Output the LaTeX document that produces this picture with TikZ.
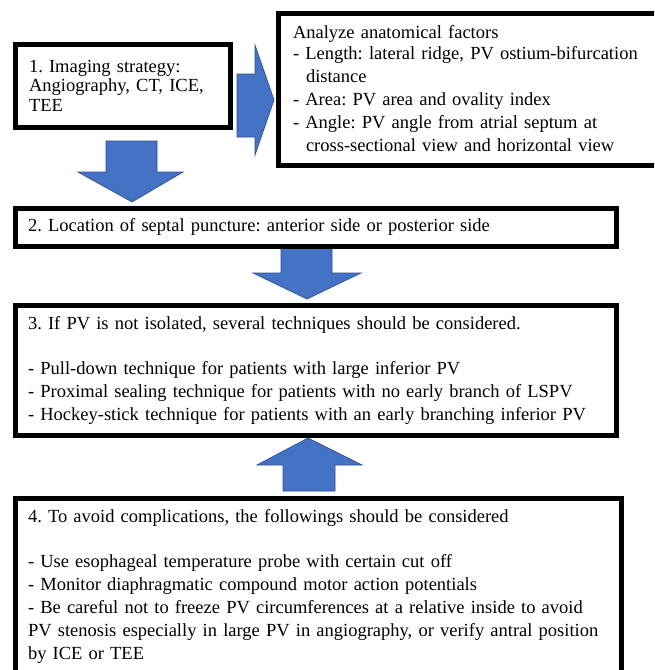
\documentclass[tikz,border=0pt]{standalone}
\usepackage{fontspec}
\setmainfont{Liberation Serif}
\usepackage{tikz}

\definecolor{arrowblue}{HTML}{4472C4}
\definecolor{arrowedge}{HTML}{2F528F}

\tikzset{
  stepbox/.style={draw, line width=5pt, anchor=north west, align=left,
    inner xsep=14pt, inner ysep=0pt, font=\fontsize{18.5}{23}\selectfont},
  fatarrow/.style={fill=arrowblue, draw=arrowedge, line width=0.7pt}
}

\begin{document}
\frenchspacing
\begin{tikzpicture}[x=1pt,y=-1pt]
    \clip (0,0) rectangle (654,670);
    \fill[white] (0,0) rectangle (654,670);
    % block arrows
    \draw[fatarrow] (237,74) -- (255,74) -- (255,45) -- (274,100) -- (255,155) -- (255,137) -- (237,137) -- cycle;
    \draw[fatarrow] (106,141) -- (157,141) -- (157,172) -- (183,172) -- (132,202) -- (78,172) -- (106,172) -- cycle;
    \draw[fatarrow] (281,248) -- (332,248) -- (332,273) -- (361,273) -- (307,299) -- (253,273) -- (281,273) -- cycle;
    \draw[fatarrow] (283,491) -- (335,491) -- (335,465) -- (362,465) -- (308,438) -- (257,465) -- (283,465) -- cycle;
    % boxes
    \node[stepbox, text width=187pt, minimum height=83pt, font=\fontsize{18.5}{19.5}\selectfont] (imaging) at (12.5,41.5)
        {1. Imaging strategy:\\Angiography, CT, ICE,\\TEE};
    \node[stepbox, text width=360pt, minimum height=152pt, inner xsep=15pt] (anat) at (275.5,10.5)
        {Analyze anatomical factors\\[-2pt]
         - Length: lateral ridge, PV ostium-bifurcation\\
         \hspace*{13pt}distance\\
         - Area: PV area and ovality index\\
         - Angle: PV angle from atrial septum at\\
         \hspace*{13pt}cross-sectional view and horizontal view};
    \node[stepbox, text width=575pt, minimum height=38pt, inner xsep=13pt] (puncture) at (12.5,205.5)
        {2. Location of septal puncture: anterior side or posterior side};
    \node[stepbox, text width=575pt, minimum height=130pt, inner xsep=13pt] (technique) at (12.5,302.5)
        {3. If PV is not isolated, several techniques should be considered.\\[22pt]
         - Pull-down technique for patients with large inferior PV\\
         - Proximal sealing technique for patients with no early branch of LSPV\\
         - Hockey-stick technique for patients with an early branching inferior PV};
    \node[stepbox, text width=580pt, minimum height=177pt, inner xsep=13pt] (complication) at (12.5,495.5)
        {4. To avoid complications, the followings should be considered\\[22pt]
         - Use esophageal temperature probe with certain cut off\\
         - Monitor diaphragmatic compound motor action potentials\\
         - Be careful not to freeze PV circumferences at a relative inside to avoid\\
         PV stenosis especially in large PV in angiography, or verify antral position\\
         by ICE or TEE};
\end{tikzpicture}
\end{document}
